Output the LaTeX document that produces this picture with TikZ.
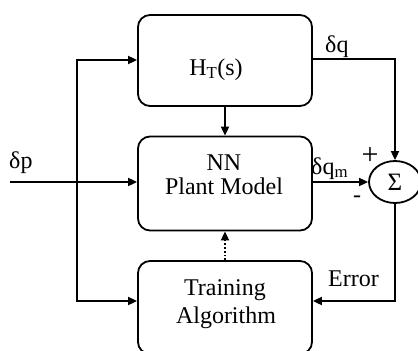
\documentclass[tikz,border=0pt]{standalone}
\usepackage{fontspec}
\setmainfont{Liberation Serif}
\usetikzlibrary{arrows.meta,shapes.geometric}
\tikzset{
  blockbox/.style={draw,line width=1.8pt,rounded corners=12pt,minimum width=174pt,inner sep=0pt},
  lbl/.style={inner sep=0pt,font=\fontsize{24}{28}\selectfont},
  conn/.style={line width=1.8pt,-{Triangle[length=9pt,width=8pt]}},
  sumnode/.style={draw,ellipse,line width=1.8pt,minimum width=52pt,minimum height=42pt,inner sep=0pt,font=\fontsize{25}{28}\selectfont}
}
\begin{document}
\begin{tikzpicture}[x=1pt,y=-1pt]
\useasboundingbox (0,0) rectangle (418,351);
\clip (0,0) rectangle (418,351);
% blocks
\node[blockbox,minimum height=91pt] (ht) at (225,60.5) {};
\node[blockbox,minimum height=94pt] (nn) at (225,183.5) {};
\node[blockbox,minimum height=93pt] (tr) at (225,307.5) {};
\node[sumnode] (sum) at (395,182) {\raisebox{-2pt}{Σ}};
% texts
\node[lbl,anchor=base] (httext) at (216,75) {H\textsubscript{T}(s)};
\node[lbl,anchor=base] (nntext1) at (224,170) {NN};
\node[lbl,anchor=base] (nntext2) at (224,194) {Plant Model};
\node[lbl,anchor=base] (trtext1) at (225,295) {Training};
\node[lbl,anchor=base] (trtext2) at (226,323) {Algorithm};
\node[lbl,anchor=base west] (dp) at (9,168) {δp};
\node[lbl,anchor=base west] (dq) at (325,52) {δq};
\node[lbl,anchor=base west] (dqm) at (311,174) {δq\textsubscript{m}};
\node[lbl,anchor=center,font=\fontsize{30}{32}\selectfont] (plus) at (370,156) {+};
\node[lbl,anchor=center] (minus) at (357,199) {-};
\node[lbl,anchor=base west] (err) at (328,286) {Error};
% connectors
\coordinate (pin) at (10,182);
\coordinate (split) at (77,182);
\draw[conn] (pin) -- (pin -| nn.west);
\draw[conn] (split) |- ([yshift=0.5pt]ht.west);
\draw[conn] (split) |- ([yshift=6.5pt]tr.west);
\draw[conn] (ht.south) -- (nn.north);
\draw[conn,dotted] (tr.north) -- (nn.south);
\draw[conn] ([yshift=1.5pt]ht.east) -| (sum.north);
\draw[conn] (sum.west -| nn.east) -- (sum.west);
\draw[conn] (sum.south) |- ([yshift=6.5pt]tr.east);
\end{tikzpicture}
\end{document}
